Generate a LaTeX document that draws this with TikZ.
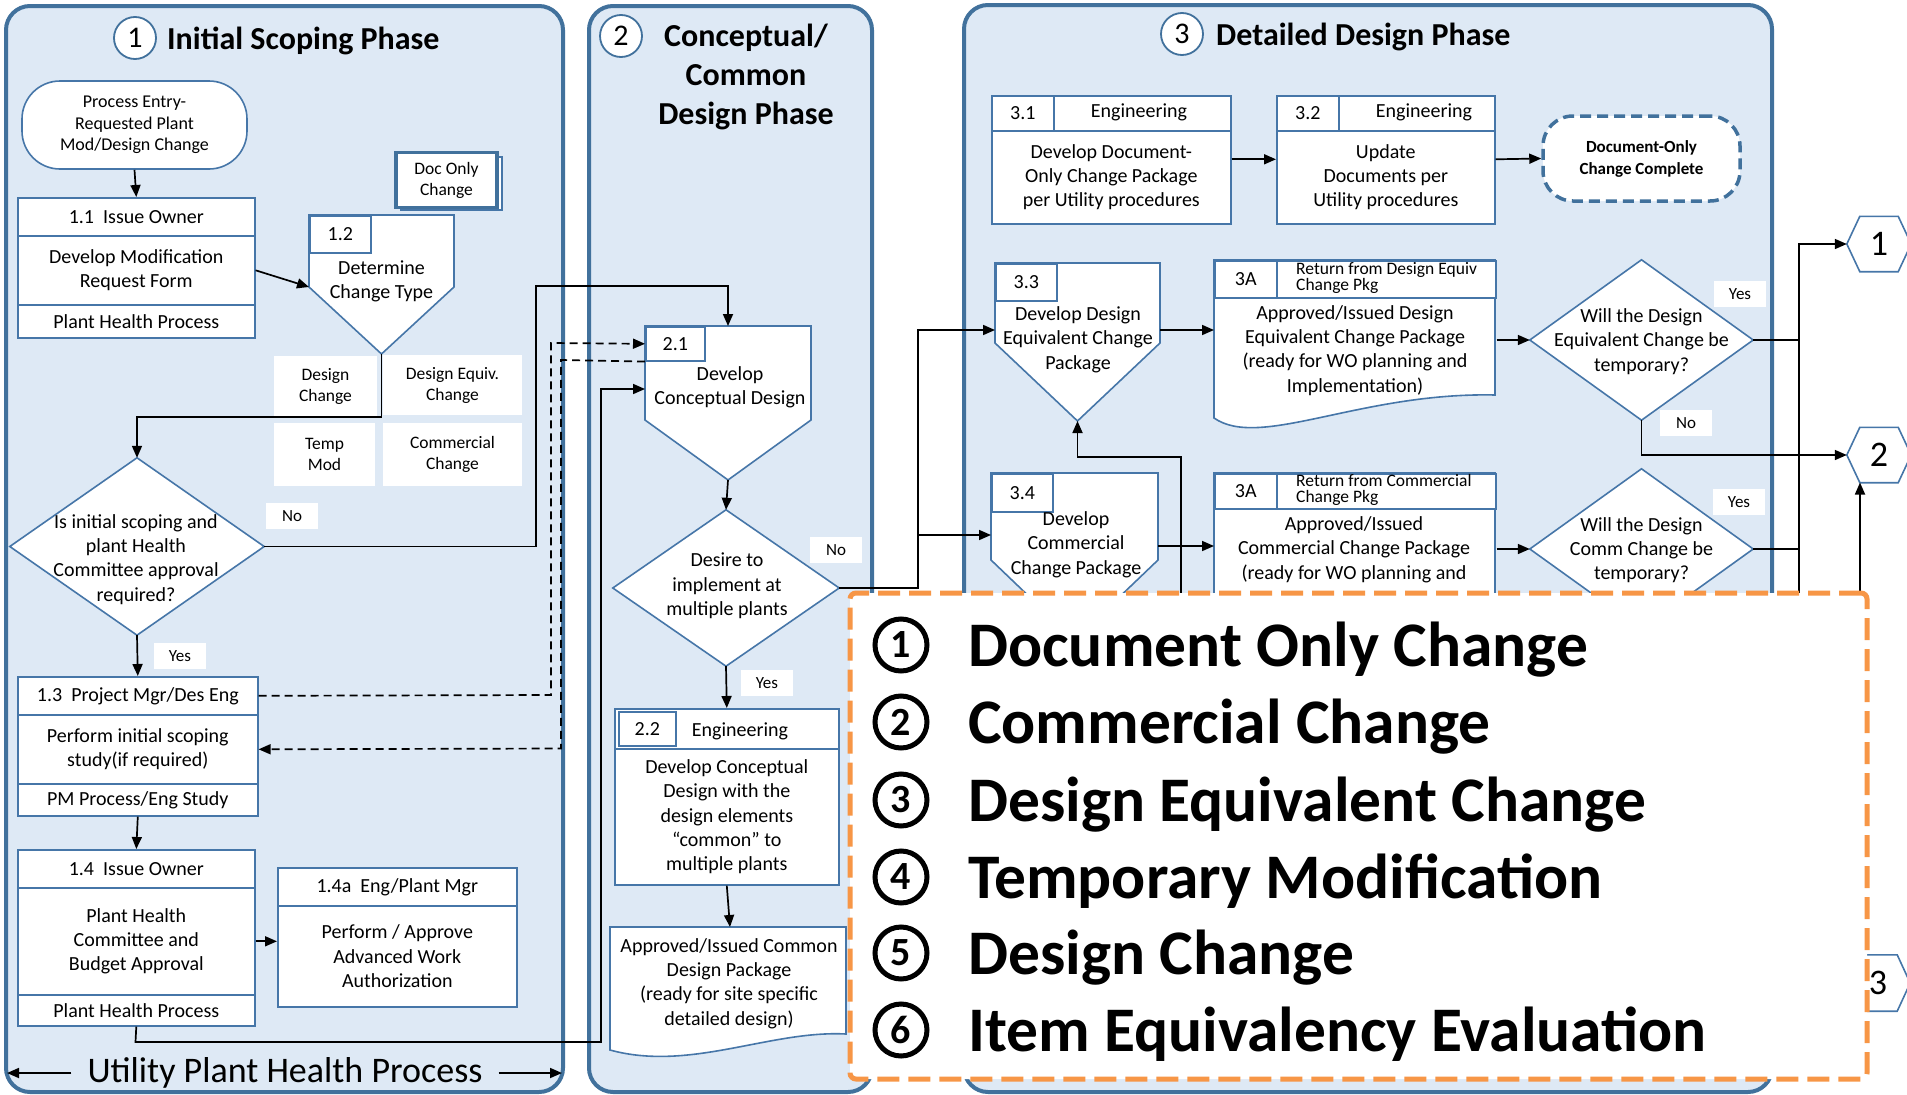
\documentclass[tikz,border=0pt]{standalone}
\usepackage{fontspec}
\setmainfont{Carlito}
\usetikzlibrary{arrows.meta,calc}
\definecolor{pfill}{RGB}{222,233,245}
\definecolor{pline}{RGB}{65,113,156}
\definecolor{sline}{RGB}{70,118,168}
\definecolor{orng}{RGB}{247,150,70}
\begin{document}
\begin{tikzpicture}[x=1pt,y=-1pt,
  panel/.style={draw=pline,line width=4pt,fill=pfill,rounded corners=24pt},
  shp/.style={draw=sline,line width=1.6pt,fill=white},
  body/.style={font=\fontsize{20}{24.3}\selectfont,align=center,inner sep=0pt},
  cell/.style={body,draw=sline,line width=1.6pt,fill=white,anchor=north west},
  lab/.style={fill=white,font=\fontsize{17.5}{21}\selectfont,align=center,inner sep=0pt},
  tagb/.style={fill=white,font=\fontsize{17}{20}\selectfont,inner sep=0pt,minimum width=52pt,minimum height=26pt},
  ghost/.style={inner sep=0pt},
  ln/.style={draw=black,line width=1.7pt},
  arr/.style={ln,-{Triangle[length=12pt,width=10pt]}},
  dsh/.style={arr,dash pattern=on 8pt off 5pt},
  numc/.style={circle,draw=pline,line width=1.8pt,fill=white,minimum size=42pt,inner sep=0pt,font=\fontsize{30}{30}\selectfont},
  ttl/.style={inner sep=0pt,font=\bfseries\fontsize{32}{39}\selectfont,align=center},
  smalltxt/.style={anchor=west,inner sep=0pt,align=left,font=\fontsize{17.5}{15.5}\selectfont},
  hexnum/.style={inner sep=0pt,font=\fontsize{36}{36}\selectfont},
  legc/.style={circle,draw=black,line width=5pt,minimum size=52pt,inner sep=0pt,font=\bfseries\fontsize{40}{40}\selectfont},
  legt/.style={anchor=base west,inner sep=0pt,font=\bfseries\fontsize{63.5}{63.5}\selectfont}
]
\useasboundingbox (0,0) rectangle (1907,1095);

% ---------- panels ----------
\path[panel] (6,6) rectangle (563,1092);
\path[panel] (589,6) rectangle (872,1092);
\path[panel] (964,5) rectangle (1772,1092);

% ---------- titles ----------
\node[numc] (n1) at (135,38) {1};
\node[ttl,anchor=base west] (t1) at (167,49) {Initial Scoping Phase};
\node[numc] (n2) at (621,36) {2};
\node[ttl] (t2) at (746,77) {Conceptual/\\Common\\Design Phase};
\node[numc] (n3) at (1182,34) {3};
\node[ttl,anchor=base west] (t3t) at (1216,45) {Detailed Design Phase};

% ---------- phase 1 ----------
\node[draw=sline,line width=1.6pt,fill=white,rounded corners=38pt,minimum width=225pt,minimum height=88pt,align=center,inner sep=0pt,font=\fontsize{18}{21.5}\selectfont] (start) at (134.5,125) {Process Entry-\\Requested Plant\\Mod/Design Change};

\node[cell,minimum width=237pt,minimum height=38pt] (b11h) at (17,197) {1.1\ \ Issue Owner};
\node[cell,minimum width=237pt,minimum height=69pt] (b11b) at (17,235) {Develop Modification\\Request Form};
\node[cell,minimum width=237pt,minimum height=33pt] (b11f) at (17,304) {Plant Health Process};

\path[draw=sline,line width=1.2pt,fill=white] (401,157) rectangle (502,210);
\node[lab,draw=pline,line width=3.5pt,minimum width=101pt,minimum height=55pt] (doc) at (446.5,180) {Doc Only\\Change};

\path[shp] (309,215) -- (454,215) -- (454,287) -- (381.5,354) -- (309,287) -- cycle;
\coordinate (p12L) at (309,287);
\coordinate (p12A) at (381.5,354);
\node[cell,minimum width=61pt,minimum height=37pt] (p12n) at (309,215) {1.2};
\node[body] (p12t) at (381.5,281) {Determine\\Change Type};

\node[lab,minimum width=103pt,minimum height=60pt] (lDC) at (325.5,386) {Design\\Change};
\node[lab,minimum width=139pt,minimum height=60pt] (lDE) at (452.5,385) {Design Equiv.\\Change};
\node[lab,minimum width=101pt,minimum height=63pt] (lTM) at (324.5,454.5) {Temp\\Mod};
\node[lab,minimum width=139pt,minimum height=63pt] (lCC) at (452.5,454.5) {Commercial\\Change};

\node[ghost,minimum width=254pt,minimum height=177pt] (d1) at (137,546.5) {};
\path[shp] (d1.west) -- (d1.north) -- (d1.east) -- (d1.south) -- cycle;
\node[body] (d1t) at (136,559.5) {Is initial scoping and\\plant Health\\Committee approval\\required?};

\node[cell,minimum width=240pt,minimum height=38pt] (b13h) at (17,676) {1.3\ \ Project Mgr/Des Eng};
\node[cell,minimum width=240pt,minimum height=69pt] (b13b) at (17,714) {Perform initial scoping\\study(if required)};
\node[cell,minimum width=240pt,minimum height=32pt] (b13f) at (17,783) {PM Process/Eng Study};

\node[cell,minimum width=237pt,minimum height=38pt] (b14h) at (17,849) {1.4\ \ Issue Owner};
\node[cell,minimum width=237pt,minimum height=107pt] (b14b) at (17,887) {Plant Health\\Committee and\\Budget Approval};
\node[cell,minimum width=237pt,minimum height=31pt] (b14f) at (17,994) {Plant Health Process};

\node[cell,minimum width=239pt,minimum height=38pt] (b14ah) at (277,867) {1.4a\ \ Eng/Plant Mgr};
\node[cell,minimum width=239pt,minimum height=101pt] (b14ab) at (277,905) {Perform / Approve\\Advanced Work\\Authorization};

\node[inner sep=0pt,font=\fontsize{36}{40}\selectfont] (uphp) at (285,1073) {Utility Plant Health Process};
\coordinate (uL) at (7,1073);
\coordinate (uR) at (562,1073);

% ---------- phase 2 ----------
\path[shp] (645,326) -- (811,326) -- (811,420) -- (728,480) -- (645,420) -- cycle;
\coordinate (p21T) at (728,326);
\coordinate (p21A) at (728,480);
\coordinate (p21S) at (645,389);
\node[cell,minimum width=59pt,minimum height=34pt] (p21n) at (645,326) {2.1};
\node[body] (p21t) at (730,387) {Develop\\Conceptual Design};

\node[ghost,minimum width=226pt,minimum height=156pt] (d2) at (726,588) {};
\path[shp] (d2.west) -- (d2.north) -- (d2.east) -- (d2.south) -- cycle;
\node[body] (d2t) at (727,586) {Desire to\\implement at\\multiple plants};

\node[cell,minimum width=224pt,minimum height=40pt] (b22h) at (614,708) {};
\node[cell,minimum width=57pt,minimum height=34pt] (b22n) at (618,711) {2.2};
\node[body] (b22e) at (740,731) {Engineering};
\node[cell,minimum width=224pt,minimum height=136pt] (b22b) at (614,748) {Develop Conceptual\\Design with the\\design elements\\“common” to\\multiple plants};

\path[shp] (610,927) -- (846,927) -- (846,1034) .. controls (770,1030) and (690,1072) .. (610,1050) -- cycle;
\coordinate (cdT) at (730,927);
\node[body] (cdt) at (729,983.5) {Approved/Issued Common\\Design Package\\(ready for site specific\\detailed design)};

% ---------- phase 3 ----------
\node[cell,minimum width=239pt,minimum height=35pt] (b31h) at (991,95) {};
\node[cell,minimum width=62pt,minimum height=35pt] (b31n) at (991,95) {3.1};
\node[body] (b31e) at (1139,112.5) {Engineering};
\node[cell,minimum width=239pt,minimum height=93pt] (b31b) at (991,130) {Develop Document-\\Only Change Package\\per Utility procedures};

\node[cell,minimum width=218pt,minimum height=35pt] (b32h) at (1276,95) {};
\node[cell,minimum width=62pt,minimum height=35pt] (b32n) at (1276,95) {3.2};
\node[body] (b32e) at (1424,112.5) {Engineering};
\node[cell,minimum width=218pt,minimum height=93pt] (b32b) at (1276,130) {Update\\Documents per\\Utility procedures};

\node[draw=pline,line width=3.5pt,dash pattern=on 11pt off 6pt,fill=white,rounded corners=30pt,minimum width=197pt,minimum height=85pt,inner sep=0pt,align=center,font=\bfseries\fontsize{17}{22}\selectfont] (t3) at (1641.5,158.5) {Document-Only\\Change Complete};

\path[shp] (995,263) -- (1160,263) -- (1160,343) -- (1077.5,421) -- (995,343) -- cycle;
\coordinate (p33L) at (995,330);
\coordinate (p33R) at (1160,330);
\coordinate (p33A) at (1077.5,421);
\node[cell,minimum width=61pt,minimum height=37pt] (p33n) at (995,263) {3.3};
\node[body] (p33t) at (1078,339.5) {Develop Design\\Equivalent Change\\Package};

\path[shp] (1214,260) -- (1495,260) -- (1495,395) .. controls (1360,392) and (1260,450) .. (1214,418) -- cycle;
\node[cell,minimum width=281pt,minimum height=37pt] (d3ah) at (1214,260) {};
\node[cell,minimum width=62pt,minimum height=37pt] (d3an) at (1214,260) {3A};
\node[smalltxt] (d3as) at (1296,278) {Return from Design Equiv\\Change Pkg};
\node[body] (d3at) at (1355,350.5) {Approved/Issued Design\\Equivalent Change Package\\(ready for WO planning and\\Implementation)};

\node[ghost,minimum width=223pt,minimum height=160pt] (d3) at (1641.5,340) {};
\path[shp] (d3.west) -- (d3.north) -- (d3.east) -- (d3.south) -- cycle;
\node[body] (d3t) at (1641.5,341.5) {Will the Design\\Equivalent Change be\\temporary?};

\path[shp] (991,473) -- (1158,473) -- (1158,560) -- (1074.5,640) -- (991,560) -- cycle;
\coordinate (p34L) at (991,535);
\coordinate (p34R) at (1158,546);
\node[cell,minimum width=61pt,minimum height=38pt] (p34n) at (991,473) {3.4};
\node[body] (p34t) at (1076,544.5) {Develop\\Commercial\\Change Package};

\path[shp] (1214,473) rectangle (1495,650);
\node[cell,minimum width=281pt,minimum height=35pt] (d3bh) at (1214,473) {};
\node[cell,minimum width=62pt,minimum height=35pt] (d3bn) at (1214,473) {3A};
\node[smalltxt] (d3bs) at (1296,490) {Return from Commercial\\Change Pkg};
\node[body] (d3bt) at (1354,549.5) {Approved/Issued\\Commercial Change Package\\(ready for WO planning and};

\node[ghost,minimum width=223pt,minimum height=160pt] (d4) at (1641.5,549) {};
\path[shp] (d4.west) -- (d4.north) -- (d4.east) -- (d4.south) -- cycle;
\node[body] (d4t) at (1641.5,550) {Will the Design\\Comm Change be\\temporary?};

% hexagons
\foreach \nm/\cx/\cy/\hh in {h1/1879/244/27.5, h2/1879/455/27.5, h3/1878/983/28}{
  \node[ghost,minimum width=64pt,minimum height=2*\hh pt] (\nm) at (\cx,\cy) {};
  \path[shp] (\nm.west) -- ([xshift=13pt]\nm.north west) -- ([xshift=-13pt]\nm.north east) -- (\nm.east) -- ([xshift=-13pt]\nm.south east) -- ([xshift=13pt]\nm.south west) -- cycle;
}
\node[hexnum] (h1t) at (h1) {1};
\node[hexnum] (h2t) at (h2) {2};
\node[hexnum] (h3t) at (h3) {3};
\coordinate (h2b) at (1860,482.5);

% ---------- tags ----------
\node[tagb] (no1) at (292,516) {No};
\node[tagb] (yes1) at (180,656) {Yes};
\node[tagb] (no2) at (836,550) {No};
\node[tagb] (yes2) at (767,683) {Yes};
\node[tagb] (yes3) at (1740,294) {Yes};
\node[tagb] (no3) at (1686,423) {No};
\node[tagb] (yes4) at (1739,502) {Yes};

% ---------- connectors ----------
\draw[arr] (start.south) -- (b11h.north);
\draw[arr] (b11b.east) -- (p12L);
\draw[arr] (p12A) -- (381.5,417) -| (d1.north);
\draw[arr] (d1.east) -- (536,546.5) -- (536,286) -| (p21T);
\draw[arr] (d1.south) -- (b13h.north);
\draw[dsh] (b13h.east) -- (551,695) -- (551,343) -- (p21n.west);
\draw[dsh] (p21n.south west) -- (561,360) -- (561,748.5) -- (b13b.east);
\draw[arr] (b13f.south) -- (b14h.north);
\draw[arr] (b14b.east) -- (b14ab.west |- b14b.east);
\draw[arr] (b14f.south) -- (135.5,1042) -- (601,1042) |- (p21S);
\draw[arr] ([xshift=-16pt]uphp.west) -- (uL);
\draw[arr] ([xshift=16pt]uphp.east) -- (uR);

\draw[arr] (p21A) -- (d2.north);
\draw[arr] (d2.south) -- (b22h.north);
\draw[arr] (b22b.south) -- (cdT);

\draw[arr] (d2.east) -- (918,588) |- (p33L);
\draw[arr] (918,535) -- (p34L);
\draw[arr] ([yshift=18pt]b31b.east) -- ([yshift=18pt]b32b.west);
\draw[arr] ([yshift=18pt]b32b.east) -- (t3.west);
\draw[arr] (p33R) -- (d3ah.west |- p33R);
\draw[arr] (d3.west -| d3ah.east) -- (d3.west);
\draw[ln] (d3.east) -- (1799,340);
\draw[arr] (1799,610) -- (1799,244) -- (h1.west);
\draw[arr] (d3.south) |- (h2.west);
\draw[arr] (1860,610) -- (h2b);
\draw[arr] (1181,610) -- (1181,457) -- (1077.5,457) -- (p33A);
\draw[arr] (p34R) -- (d3bh.west |- p34R);
\draw[arr] (d4.west -| d3bh.east) -- (d4.west);
\draw[ln] (d4.east) -- (1799,549);

% ---------- legend ----------
\node[draw=orng,line width=5pt,dash pattern=on 22pt off 9pt,fill=white,rounded corners=6pt,minimum width=1017pt,minimum height=486pt,inner sep=0pt] (leg) at (1358.5,836) {};
\foreach \i/\y/\t in {1/645/Document Only Change, 2/722/Commercial Change, 3/800/Design Equivalent Change, 4/877/Temporary Modification, 5/953/Design Change, 6/1030/Item Equivalency Evaluation}{
  \node[legc] (lc\i) at (901,\y) {\i};
  \node[legt] (lt\i) at (968,\y+21) {\t};
}
\end{tikzpicture}
\end{document}
